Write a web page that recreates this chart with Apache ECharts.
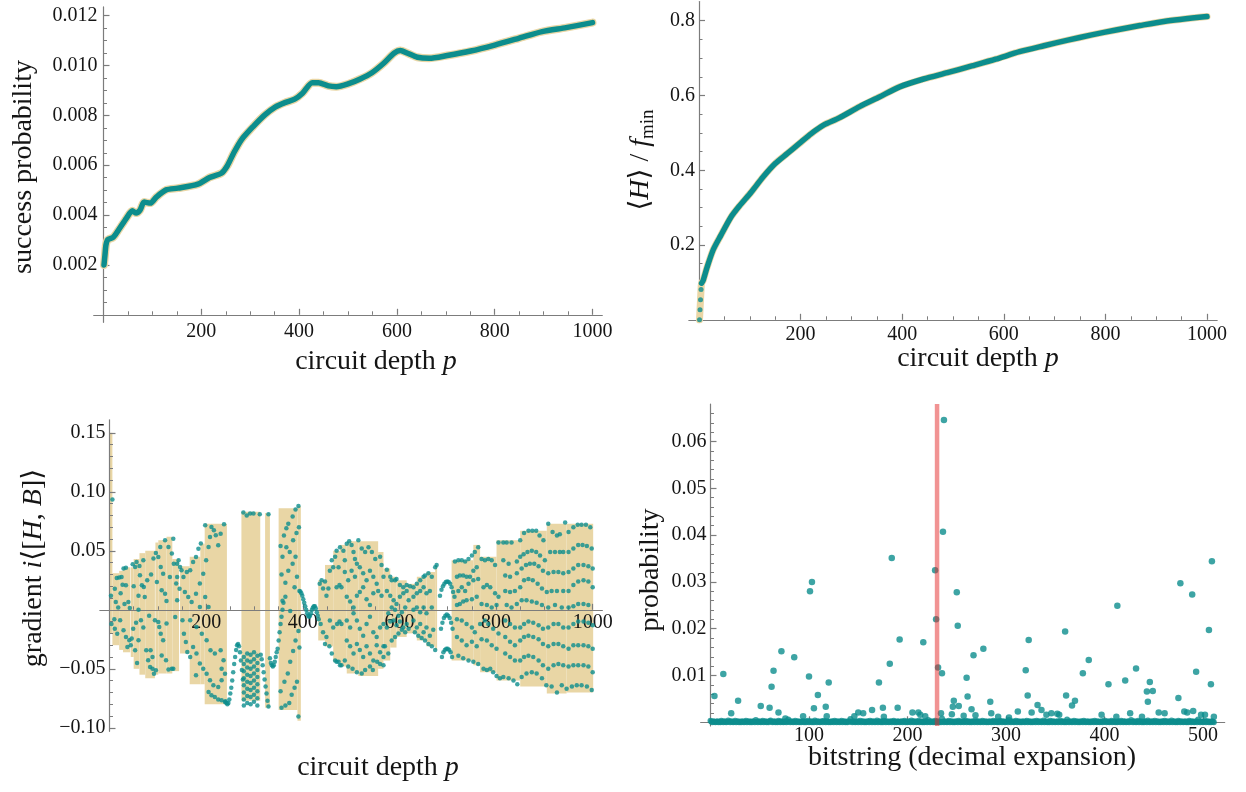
<!DOCTYPE html>
<html><head><meta charset="utf-8">
<script src="https://cdn.jsdelivr.net/npm/echarts@6/dist/echarts.min.js"></script>
<style>html,body{margin:0;padding:0;background:#fff}#c{width:1246px;height:792px}</style>
</head><body><div id="c"></div>
<script>
// ---------- Panel 1: success probability vs circuit depth ----------
const p1Depth = [1,3,5,8,10,20,31,47,59,67,75,83,96,108,128,152,193,217,241,253,266,282,306,330,351,371,391,407,427,440,460,476,500,525,549,573,594,607,622,642,666,703,751,800,849,897,946,1000];
const p1Success = [0.0020,0.0024,0.0028,0.0030,0.00303,0.00311,0.00341,0.00388,0.00417,0.00408,0.00421,0.00452,0.00448,0.00472,0.00501,0.00508,0.00524,0.00551,0.00568,0.00597,0.00648,0.00702,0.00755,0.00802,0.00833,0.00851,0.00865,0.00889,0.00931,0.00931,0.00918,0.00915,0.00926,0.00946,0.00971,0.01009,0.01049,0.01060,0.01049,0.01033,0.01029,0.01040,0.01058,0.01082,0.01109,0.01136,0.01152,0.01172];

// ---------- Panel 2: <H>/f_min vs circuit depth ----------
const p2Depth = [1,2,3,4,5,8,16,28,43,63,79,103,126,150,174,197,221,245,276,316,355,395,442,489,537,584,631,679,726,773,821,868,915,1000];
const p2Energy = [0,0.027,0.054,0.081,0.098,0.105,0.141,0.1875,0.226,0.275,0.3036,0.342,0.382,0.418,0.445,0.471,0.498,0.5205,0.540,0.570,0.596,0.623,0.644,0.661,0.679,0.697,0.717,0.733,0.748,0.762,0.775,0.787,0.798,0.811];

// ---------- Panel 3: gradient band (start, end, low, high) ----------
const bandStart = [0,6,20,28,44,50,62,74,95,101,118,130,146,166,188,197,273,322,350,389,432,446,463,477,491,515,556,567,581,594,615,636,656,674,708,753,767,801,850,905,946];
const bandEnd   = [6,20,28,43,50,62,74,94,101,118,130,144,166,188,197,243,312,332,389,396,446,463,477,491,515,556,567,581,594,615,636,656,674,678,753,767,801,850,905,946,1001];
const bandHi = [0.150,0.031,0.033,0.036,0.036,0.043,0.048,0.050,0.057,0.059,0.062,0.043,0.037,0.045,0.056,0.073,0.083,0.082,0.086,0.088,0.025,0.038,0.050,0.055,0.058,0.058,0.049,0.035,0.028,0.025,0.022,0.028,0.032,0.038,0.042,0.055,0.045,0.059,0.067,0.073,0.073];
const bandLo = [-0.020,-0.030,-0.034,-0.036,-0.040,-0.050,-0.055,-0.058,-0.055,-0.054,-0.054,-0.052,-0.037,-0.063,-0.063,-0.080,-0.077,-0.083,-0.085,-0.094,-0.026,-0.031,-0.044,-0.048,-0.054,-0.056,-0.050,-0.043,-0.032,-0.023,-0.020,-0.026,-0.031,-0.034,-0.043,-0.047,-0.053,-0.060,-0.065,-0.071,-0.070];

// ---------- Panel 3: gradient sample points [p, value] ----------
const gradPoints = [
[6,0.0934],[11,0.0179],[13,0.0066],[10,-0.0081],[11,-0.016],[16,-0.0202],[20,0.0273],[25,0.0278],[29,0.0349],[34,0.0357],[27,0.0213],[34,0.0208],[39,0.0066],[42,0.0016],[22,-0.0089],[29,-0.0174],[34,-0.023],[37,-0.0315],[41,-0.0258],[46,-0.0244],[49,-0.016],[48,0.0386],[53,0.0363],[56,0.0405],[62,0.0371],[63,0.0292],[67,0.0208],[70,0.0419],[71,0.0194],[73,0.0109],[65,-0.0089],[70,-0.0151],[60,-0.0258],[53,-0.0343],[76,-0.0343],[80,-0.0427],[84,-0.0484],[89,-0.0499],[92,-0.0541],[96,-0.0513],[89,-0.0399],[85,-0.0343],[91,0.0434],[96,0.0482],[101,0.0448],[106,0.0363],[111,0.0306],[108,0.0165],[115,0.0137],[118,0.0075],[125,0.0278],[129,0.0476],[133,0.0391],[122,0.0533],[115,0.0589],[105,0.0533],[98,0.0236],[101,-0.0103],[103,-0.0145],[106,-0.0202],[111,-0.0258],[108,-0.0388],[117,-0.0427],[122,-0.0507],[129,-0.0499],[132,-0.0499],[94,-0.0089],[118,-0.0117],[136,-0.0061],[138,0.0222],[140,0.0391],[143,0.0419],[140,0.0278],[146,0.0363],[132,0.0603],[140,0.008],[145,0.0179],
[3,0.012],[4,-0.012],[15,0.027],[18,0.002],[23,0.014],[31,0.005],[44,-0.03],[57,-0.045],[60,0.0],[78,0.025],[82,-0.005],[86,0.030],[60,0.012],[50,0.02],[55,-0.011],
[149,0.0335],[153,0.0278],[160,0.0321],[167,0.0335],[173,0.0405],[179,0.0448],[184,0.0518],[189,0.0561],[198,0.0716],[205,0.0533],[211,0.0702],[216,0.0674],[220,0.0631],[225,0.0546],[230,0.0645],[237,0.0725],[208,0.0617],[200,0.0419],[194,0.0306],[187,0.0222],[179,0.0137],[170,0.0066],[163,0.0109],[156,0.0151],[198,0.0109],[151,-0.0089],[154,-0.0202],[158,-0.0273],[161,-0.0357],[167,-0.0399],[173,-0.0315],[180,-0.0371],[187,-0.0456],[179,-0.0555],[194,-0.0499],[201,-0.0541],[205,-0.0696],[211,-0.0725],[218,-0.0739],[225,-0.0761],[232,-0.0767],[239,-0.0781],[208,-0.0597],[215,-0.064],[225,-0.0654],[232,-0.0597],[167,-0.0089],[180,-0.0145],[191,-0.0202],[201,-0.0258],[209,-0.0343],[218,-0.0371],[230,-0.0343],[236,-0.0427],[239,-0.0541],[232,-0.0499],[187,0.0024],[205,0.0024],
[240,-0.0775],[242,-0.079],[244,-0.080],[246,-0.079],[248,-0.076],[250,-0.071],[252,-0.066],[254,-0.060],[256,-0.053],[258,-0.046],[260,-0.040],[262,-0.034],[264,-0.030],[266,-0.029],[268,-0.031],[270,-0.036],[272,-0.043],[274,-0.051],[276,-0.059],
[278,-0.040],[278,-0.046],[278,-0.052],[278,-0.058],[278,-0.064],[278,-0.070],[278,-0.076],[278,-0.081],
[285,-0.037],[285,-0.043],[285,-0.049],[285,-0.055],[285,-0.061],[285,-0.067],[285,-0.073],[285,-0.079],
[292,-0.038],[292,-0.044],[292,-0.050],[292,-0.056],[292,-0.062],[292,-0.068],[292,-0.074],[292,-0.080],
[299,-0.036],[299,-0.042],[299,-0.048],[299,-0.054],[299,-0.060],[299,-0.066],[299,-0.072],[299,-0.078],
[306,-0.039],[306,-0.045],[306,-0.051],[306,-0.057],[306,-0.063],[306,-0.069],[306,-0.075],[306,-0.081],
[277,0.0825],[284,0.080],[291,0.0815],[298,0.0815],[311,0.081],[329,0.081],
[313,-0.038],[315,-0.042],[317,-0.047],[319,-0.053],[321,-0.059],[323,-0.065],[325,-0.071],[327,-0.077],[329,-0.082],
[332,-0.041],[334,-0.045],[336,-0.047],[338,-0.048],[340,-0.047],[342,-0.044],[344,-0.040],[346,-0.036],
[348,-0.033],[350,-0.026],[352,-0.019],[354,-0.012],[356,-0.006],[358,0.0],[360,0.006],
[354,0.054],[361,0.063],[366,0.069],[370,0.073],[379,0.079],[385,0.085],[391,0.088],[358,0.045],[366,0.053],[373,0.049],[380,0.059],[387,0.065],[392,0.070],[356,0.030],[364,0.023],[370,0.033],[379,0.039],[385,0.045],[358,0.0077],[364,0.011],[374,-0.001],[383,0.019],[388,0.028],[354,-0.069],[362,-0.061],[369,-0.054],[374,-0.044],[380,-0.035],[385,-0.026],[391,-0.018],[356,-0.083],[364,-0.081],[372,-0.079],[377,-0.072],[383,-0.066],[388,-0.061],[391,-0.0905],[393,-0.032],
[393,0.016],[395,0.0155],[397,0.014],[399,0.012],[401,0.009],[403,0.006],[405,0.003],[407,0.0],[409,-0.003],[411,-0.005],[413,-0.006],[415,-0.005],[417,-0.003],[419,0.0],[421,0.002],[423,0.003],[425,0.003],[427,0.001],[429,-0.002],[431,-0.005],[433,-0.008],
[435,0.022],[439,0.025],[442,0.018],[446,0.024],[449,0.012],[453,0.018],[456,0.033],[460,0.042],[463,0.036],[467,0.045],[470,0.050],[474,0.036],[477,0.053],[437,-0.012],[442,-0.019],[446,-0.029],[449,-0.023],[455,-0.031],[460,-0.037],[467,-0.043],[470,-0.044],[477,-0.047],[456,-0.009],[463,-0.015],[470,0.019],[476,0.021],[480,0.019],[471,-0.012],[476,-0.010],[480,-0.012],
[484,0.050],[487,0.042],[491,0.056],[496,0.058],[501,0.055],[505,0.049],[508,0.043],[512,0.039],[515,0.059],[522,0.052],[529,0.049],[536,0.053],[543,0.049],[550,0.043],[560,0.045],[563,0.038],
[487,0.032],[494,0.025],[501,0.033],[508,0.028],[518,0.036],[525,0.031],[532,0.025],[539,0.033],[546,0.028],[553,0.022],[567,0.028],
[491,0.011],[498,0.007],[505,0.002],[512,0.012],[518,0.015],[525,0.019],[532,0.009],[539,0.004],[546,0.014],[556,0.016],[563,0.012],
[491,-0.009],[498,-0.015],[505,-0.003],[512,-0.009],[518,-0.016],[525,-0.022],[532,-0.012],[539,-0.006],[546,-0.019],[553,-0.023],[560,-0.015],[567,-0.012],
[491,-0.026],[498,-0.031],[505,-0.037],[512,-0.029],[518,-0.034],[525,-0.040],[532,-0.031],[539,-0.037],[546,-0.043],[553,-0.030],[560,-0.036],[567,-0.031],
[474,-0.044],[480,-0.047],[487,-0.043],[494,-0.048],[503,-0.050],[512,-0.053],[522,-0.054],[529,-0.051],[539,-0.048],[545,-0.051],[554,-0.044],[560,-0.046],[567,-0.047],
[574,0.034],[581,0.028],[584,0.025],[591,0.025],[594,0.026],[601,0.021],[608,0.019],[615,0.021],[622,0.020],
[574,0.016],[581,0.012],[588,0.008],[594,0.005],[601,0.011],[608,0.014],[615,0.016],
[577,-0.003],[584,0.002],[591,0.0],[598,-0.005],[605,-0.002],[612,0.002],[619,0.008],
[574,-0.015],[581,-0.010],[588,-0.009],[594,-0.013],[601,-0.010],[608,-0.015],[615,-0.012],
[570,-0.031],[577,-0.037],[584,-0.026],[591,-0.023],[598,-0.020],[605,-0.017],[612,-0.019],[619,-0.016],[567,-0.040],
[629,0.019],[636,0.022],[643,0.025],[650,0.028],[653,0.029],[660,0.031],[667,0.028],[674,0.036],[677,0.038],
[629,0.011],[636,0.014],[643,0.016],[650,0.019],[656,0.014],[663,0.016],
[629,0.0],[636,0.002],[643,-0.002],[650,0.002],[656,-0.003],[667,0.002],
[629,-0.009],[636,-0.015],[643,-0.012],[650,-0.019],[656,-0.015],[663,-0.022],[670,-0.017],
[632,-0.019],[639,-0.022],[646,-0.024],[653,-0.026],[660,-0.029],[667,-0.031],[674,-0.034],
[684,0.012],[687,0.017],[690,0.020],[693,0.022],[696,0.0235],[699,0.024],[702,0.0235],[705,0.022],[708,0.019],[711,0.015],[714,0.011],
[686,-0.016],[689,-0.011],[692,-0.007],[695,-0.005],[698,-0.004],[701,-0.005],[704,-0.007],[707,-0.011],[710,-0.016],
[688,-0.040],[691,-0.036],[694,-0.034],[697,-0.033],[700,-0.033],[703,-0.034],[706,-0.036],[709,-0.040],
[715,0.041],[722,0.042],[729,0.042],[736,0.041],[743,0.043],[750,0.046],[756,0.049],[763,0.053],[770,0.043],[777,0.042],[784,0.043],[791,0.042],[798,0.038],[805,0.057],
[719,0.028],[725,0.029],[732,0.029],[739,0.028],[746,0.028],[753,0.033],[760,0.036],
[722,0.016],[729,0.019],[736,0.016],[743,0.022],[753,0.025],[763,0.026],[774,0.019],[781,0.021],[788,0.019],[798,0.014],[805,0.011],
[719,0.004],[725,0.005],[732,0.007],[739,0.008],[750,0.009],[760,0.011],[770,0.005],[781,0.004],[791,0.002],[801,0.004],
[719,-0.008],[729,-0.009],[739,-0.012],[750,-0.015],[756,-0.019],[767,-0.012],[777,-0.009],[784,-0.012],[794,-0.016],[805,-0.020],
[719,-0.023],[729,-0.026],[739,-0.030],[750,-0.027],[760,-0.031],[770,-0.025],[781,-0.026],[791,-0.030],[801,-0.033],
[722,-0.039],[732,-0.041],[743,-0.043],[753,-0.044],[763,-0.046],[774,-0.050],[781,-0.051],[788,-0.050],[794,-0.053],[801,-0.056],[808,-0.058],
[815,0.057],[822,0.057],[832,0.057],[850,0.059],[858,0.065],[867,0.067],[875,0.067],[883,0.067],[890,0.063],[898,0.059],[908,0.073],[917,0.066],[926,0.063],[932,0.064],[943,0.074],[950,0.066],[960,0.070],[969,0.072],[977,0.072],[986,0.072],[995,0.070],
[815,0.042],[826,0.039],[843,0.041],[850,0.045],[857,0.047],[865,0.049],[874,0.050],[883,0.049],[891,0.046],[901,0.042],[912,0.049],[922,0.049],[932,0.049],[939,0.049],[950,0.049],[960,0.052],[970,0.055],[979,0.055],[988,0.054],[998,0.052],
[819,0.029],[829,0.028],[843,0.031],[853,0.035],[862,0.038],[870,0.039],[879,0.039],[888,0.037],[897,0.033],[908,0.031],[919,0.032],[929,0.032],[939,0.031],[950,0.032],[960,0.035],[970,0.038],[981,0.038],[991,0.037],[1000,0.035],
[819,0.016],[829,0.015],[839,0.016],[850,0.019],[858,0.025],[867,0.026],[876,0.025],[886,0.022],[895,0.018],[905,0.015],[915,0.016],[926,0.016],[939,0.016],[950,0.016],[960,0.021],[970,0.024],[981,0.025],[991,0.024],[1000,0.019],
[822,0.004],[832,0.002],[843,0.005],[853,0.008],[863,0.008],[874,0.007],[884,0.006],[895,0.004],[908,0.002],[922,0.004],[936,0.002],[950,0.002],[960,0.003],[970,0.005],[981,0.005],[991,0.004],
[819,-0.009],[829,-0.012],[839,-0.015],[850,-0.015],[858,-0.012],[867,-0.010],[877,-0.011],[888,-0.013],[897,-0.016],[908,-0.015],[919,-0.012],[929,-0.012],[939,-0.015],[950,-0.015],[960,-0.012],[970,-0.010],[981,-0.010],[991,-0.011],[1000,-0.013],
[819,-0.023],[829,-0.027],[839,-0.030],[850,-0.026],[858,-0.023],[867,-0.022],[877,-0.023],[888,-0.025],[897,-0.029],[908,-0.031],[919,-0.029],[929,-0.029],[939,-0.031],[950,-0.033],[960,-0.030],[970,-0.030],[981,-0.030],[991,-0.031],[1000,-0.033],
[819,-0.037],[829,-0.040],[839,-0.043],[850,-0.043],[858,-0.040],[867,-0.039],[877,-0.040],[888,-0.043],[897,-0.047],[908,-0.050],[919,-0.047],[929,-0.046],[939,-0.047],[950,-0.048],[960,-0.047],[970,-0.047],[981,-0.047],[991,-0.048],[1000,-0.053],
[815,-0.057],[826,-0.058],[836,-0.060],[844,-0.063],[853,-0.057],[863,-0.054],[874,-0.053],[884,-0.054],[895,-0.058],[904,-0.064],[915,-0.065],[926,-0.070],[936,-0.064],[946,-0.067],[957,-0.065],[967,-0.064],[977,-0.064],[988,-0.065],[998,-0.068]
];

// ---------- Panel 4: bitstring probabilities ----------
const peakBits = [4,13,21,28,51,60,62,64,69,72,76,85,94,100,101,103,105,109,117,118,120,146,150,155,164,171,175,176,182,184,190,192,205,211,213,216,218,228,229,231,234,235,236,237,245,246,247,250,251,252,257,260,261,265,267,269,277,284,285,292,303,312,320,322,323,326,332,336,341,346,352,354,360,361,367,370,378,384,397,404,412,413,421,426,432,438,443,444,446,449,455,461,475,477,481,484,489,490,493,498,502,506,508,509,511];
const peakProbs = [0.0056,0.0103,0.0019,0.0046,0.0035,0.0031,0.0076,0.0110,0.0021,0.0152,0.0008,0.0139,0.0013,0.0098,0.0280,0.0300,0.0030,0.0058,0.0033,0.0013,0.0085,0.0013,0.0021,0.0019,0.0026,0.0085,0.0031,0.0012,0.0125,0.0351,0.0031,0.0177,0.0021,0.0021,0.0016,0.0171,0.0013,0.0325,0.0220,0.0117,0.0019,0.0105,0.0407,0.0646,0.0017,0.0033,0.0046,0.0278,0.0206,0.0035,0.0014,0.0095,0.0055,0.0028,0.0143,0.0015,0.0157,0.0044,0.0019,0.0012,0.0010,0.0023,0.0111,0.0057,0.0176,0.0021,0.0037,0.0026,0.0016,0.0019,0.0018,0.0016,0.0194,0.0057,0.0036,0.0046,0.0105,0.0133,0.0016,0.0081,0.0012,0.0249,0.0089,0.0019,0.0115,0.0012,0.0066,0.0044,0.0086,0.0067,0.0021,0.0019,0.0052,0.0297,0.0023,0.0021,0.0273,0.0024,0.0108,0.0016,0.0016,0.0197,0.0081,0.0344,0.0012];
// small probabilities of all 512 bitstrings, in units of 1e-4
const baseProb1e4 = [
3,1,0,2,1,0,1,2,0,1,0,3,1,0,2,1,0,1,4,1,0,2,1,0,1,3,0,1,2,0,1,0,
2,1,0,1,3,0,1,2,0,1,0,2,1,0,5,1,0,2,1,0,1,3,0,1,2,0,1,0,2,4,1,0,
1,2,0,1,0,3,1,0,2,1,0,1,2,0,1,6,1,0,2,1,0,1,3,0,1,2,0,1,0,2,1,0,
2,0,1,3,0,1,2,0,1,0,4,1,0,2,1,0,1,2,0,3,1,0,2,1,0,1,0,2,1,0,3,1,
0,2,1,0,1,3,0,1,2,0,1,0,2,1,7,1,0,2,1,0,1,2,0,1,3,0,1,2,0,1,0,2,
1,0,3,1,0,2,1,0,1,4,0,1,2,0,1,0,3,1,0,2,1,0,1,2,0,1,3,0,1,0,2,1,
0,1,2,0,1,3,0,1,0,2,1,0,4,1,0,2,1,0,1,3,0,1,2,0,1,0,2,1,0,5,1,0,
2,1,0,1,3,0,1,2,0,1,0,8,1,0,2,1,0,1,3,0,1,2,0,1,0,2,1,0,3,1,0,1,
2,0,1,3,0,1,2,0,1,0,2,1,0,4,1,0,2,1,0,1,3,0,1,2,0,1,0,2,1,0,1,3,
0,1,2,0,1,0,3,1,0,2,1,0,1,2,0,5,1,0,2,1,0,1,3,0,1,2,0,1,0,2,1,0,
1,3,0,1,2,0,1,0,2,1,0,3,1,0,2,1,0,1,4,0,1,2,0,1,0,3,1,0,2,1,0,1,
2,0,1,3,0,1,2,0,1,0,6,1,0,2,1,0,1,3,0,1,2,0,1,0,2,1,0,3,1,0,1,2,
0,1,0,2,1,0,3,1,0,2,1,0,1,2,0,1,4,1,0,2,1,0,1,3,0,1,2,0,1,0,2,1,
0,3,1,0,2,1,0,1,2,0,1,5,1,0,2,1,0,1,3,0,1,2,0,1,0,2,1,0,4,1,0,1,
2,0,1,3,0,1,2,0,1,0,2,1,0,3,1,0,2,1,0,1,4,0,1,2,0,1,0,3,1,0,2,1,
0,1,2,0,1,0,3,1,0,2,1,0,1,2,0,6,1,0,2,1,0,1,3,0,1,2,0,1,0,2,1,0
];
const targetBit = 230;

// ---------- tick values ----------
const depthMajor = [200,400,600,800,1000];
const depthMinor = [50,100,150,250,300,350,450,500,550,650,700,750,850,900,950];
const p1YMajor = [0.002,0.004,0.006,0.008,0.010,0.012];
const p1YMinor = [0.0005,0.001,0.0015,0.0025,0.003,0.0035,0.0045,0.005,0.0055,0.0065,0.007,0.0075,0.0085,0.009,0.0095,0.0105,0.011,0.0115];
const p2YMajor = [0.2,0.4,0.6,0.8];
const p2YMinor = [0.05,0.1,0.15,0.25,0.3,0.35,0.45,0.5,0.55,0.65,0.7,0.75];
const p3YMajor = [-0.10,-0.05,0.05,0.10,0.15];
const p3YMinor = [-0.09,-0.08,-0.07,-0.06,-0.04,-0.03,-0.02,-0.01,0.01,0.02,0.03,0.04,0.06,0.07,0.08,0.09,0.11,0.12,0.13,0.14];
const p4XMajor = [100,200,300,400,500];
const p4XMinor = [20,40,60,80,120,140,160,180,220,240,260,280,320,340,360,380,420,440,460,480];
const p4YMajor = [0.01,0.02,0.03,0.04,0.05,0.06];
const p4YMinor = [0.002,0.004,0.006,0.008,0.012,0.014,0.016,0.018,0.022,0.024,0.026,0.028,0.032,0.034,0.036,0.038,0.042,0.044,0.046,0.048,0.052,0.054,0.056,0.058,0.062,0.064,0.066];

// ---------- style ----------
const TEAL = '#0c8d8d', TAN = '#e9d6a5', AX = '#7c7c7c', TXT = '#151515';
const FONT = '"Liberation Serif", "DejaVu Serif", serif';
const minus = v => v < 0 ? '\u2212' + Math.abs(v).toFixed(2) : v.toFixed(2);

// axis pair (major with labels + minor ticks); offset places the axis on the other axis' zero
function axes(g, dim, min, max, majors, minors, fmt, margin, offset) {
  const base = {type:'value', gridIndex:g, min:min, max:max, position: dim === 'x' ? 'bottom' : 'left',
    offset: offset, z: 1, splitLine:{show:false}, splitArea:{show:false}};
  return [
    Object.assign({}, base, {
      axisLine:{show:true, onZero:false, lineStyle:{color:AX, width:1.2}},
      axisTick:{show:true, inside:true, length:6, customValues:majors, lineStyle:{color:AX, width:1.2}},
      axisLabel:{show:true, customValues:majors, formatter:fmt, margin:margin, color:TXT, fontFamily:FONT, fontSize:20}
    }),
    Object.assign({}, base, {
      axisLine:{show:false, onZero:false},
      axisTick:{show:true, inside:true, length:3.5, customValues:minors, lineStyle:{color:AX, width:1}},
      axisLabel:{show:false}
    })
  ];
}

const grids = [
  {left:93.72, top:6.9, width:508.56, height:315.4},
  {left:688.84, top:1.6, width:528.32, height:320.1},
  {left:99.84, top:419.8, width:502.52, height:311.54},
  {left:700.65, top:404.1, width:524.05, height:321.9}
].map(g => Object.assign(g, {containLabel:false, outerBoundsMode:'none'}));

const xAxes = [].concat(
  axes(0,'x',-20,1020,depthMajor,depthMinor,v=>String(v),7,-7.5),
  axes(1,'x',-20,1020,depthMajor,depthMinor,v=>String(v),5,-1.9),
  axes(2,'x',-20,1020,depthMajor,depthMinor,v=>String(v),3,-121.54),
  axes(3,'x',-10,522,p4XMajor,p4XMinor,v=>String(v),3,-3.7)
);
const yAxes = [].concat(
  axes(0,'y',-0.0003,0.01235,p1YMajor,p1YMinor,v=>v.toFixed(3),6,-9.78),
  axes(1,'y',-0.005,0.851,p2YMajor,p2YMinor,v=>v.toFixed(1),4,-10.16),
  axes(2,'y',-0.103,0.161,p3YMajor,p3YMinor,minus,4,-9.66),
  axes(3,'y',-0.0008,0.068,p4YMajor,p4YMinor,v=>v.toFixed(2),4,-9.85)
);

const p1Data = p1Depth.map((p,i)=>[p,p1Success[i]]);
const p2Data = p2Depth.map((p,i)=>[p,p2Energy[i]]);
const baseData = baseProb1e4.map((v,i)=>[i, v/10000]);
const peakData = peakBits.map((b,i)=>[b, peakProbs[i]]);

const series = [
  {type:'line', xAxisIndex:0, yAxisIndex:0, data:p1Data, showSymbol:false, smooth:0.25,
   lineStyle:{color:TAN, width:8, join:'round', cap:'round'}, z:2, silent:true},
  {type:'line', xAxisIndex:0, yAxisIndex:0, data:p1Data, showSymbol:false, smooth:0.25,
   lineStyle:{color:TEAL, width:5.5, join:'round', cap:'round'}, z:3, silent:true},
  {type:'line', xAxisIndex:2, yAxisIndex:2, data:p2Data, showSymbol:false, smooth:0.25,
   lineStyle:{color:TAN, width:7, join:'round', cap:'round'}, z:2, silent:true},
  {type:'line', xAxisIndex:2, yAxisIndex:2, data:p2Data.slice(4), showSymbol:false, smooth:0.25,
   lineStyle:{color:TEAL, width:5.5, join:'round', cap:'round'}, z:3, silent:true},
  {type:'scatter', xAxisIndex:2, yAxisIndex:2, data:p2Data.slice(0,4), symbolSize:5, itemStyle:{color:TEAL}, z:3, silent:true},
  {type:'custom', xAxisIndex:4, yAxisIndex:4, z:0, silent:true,
   data: bandStart.map((s,i)=>[s, bandEnd[i], bandLo[i], bandHi[i]]),
   encode:{x:[0,1], y:[2,3]},
   renderItem: function(params, api){
     const a = api.coord([api.value(0), api.value(3)]);
     const b = api.coord([api.value(1), api.value(2)]);
     return {type:'rect', shape:{x:a[0], y:a[1], width:b[0]-a[0], height:b[1]-a[1]}, style:{fill:TAN}};
   }},
  {type:'scatter', xAxisIndex:4, yAxisIndex:4, data:gradPoints, symbolSize:4.5, itemStyle:{color:TEAL}, z:3, silent:true},
  {type:'scatter', xAxisIndex:6, yAxisIndex:6, data:baseData, symbolSize:6, itemStyle:{color:TEAL}, z:3, silent:true},
  {type:'scatter', xAxisIndex:6, yAxisIndex:6, data:peakData, symbolSize:6.5, itemStyle:{color:TEAL}, z:3, silent:true},
  {type:'line', xAxisIndex:6, yAxisIndex:6, data:[[targetBit,-0.0008],[targetBit,0.068]], showSymbol:false,
   lineStyle:{color:'rgba(228,40,40,0.5)', width:4.5}, z:4, silent:true}
];

function title(x, y, rot, text, rich) {
  return {type:'text', x:x, y:y, rotation:rot, silent:true, z:10,
    style:{text:text, align:'center', verticalAlign:'middle', font:'28px ' + FONT, fill:TXT, rich:rich}};
}
const richBase = {
  n:{fontFamily:FONT, fontSize:28, lineHeight:34, color:TXT},
  i:{fontFamily:FONT, fontSize:28, fontStyle:'italic', lineHeight:34, color:TXT},
  s:{fontFamily:FONT, fontSize:19, lineHeight:19, verticalAlign:'bottom', color:TXT}
};
const graphic = [
  title(24, 167, Math.PI/2, '{n|success probability}', richBase),
  title(376, 362, 0, '{n|circuit depth }{i|p}', richBase),
  title(641, 160, Math.PI/2, '{n|\u27E8}{i|H}{n|\u27E9 / }{i|f}{s|min}', richBase),
  title(978, 359, 0, '{n|circuit depth }{i|p}', richBase),
  title(34, 568, Math.PI/2, '{n|gradient }{i|i}{n|\u27E8[}{i|H}{n|, }{i|B}{n|]\u27E9}', richBase),
  title(378, 768, 0, '{n|circuit depth }{i|p}', richBase),
  title(651, 570, Math.PI/2, '{n|probability}', richBase),
  title(972, 758, 0, '{n|bitstring (decimal expansion)}', richBase)
];

const chart = echarts.init(document.getElementById('c'), null, {renderer:'canvas'});
chart.setOption({
  animation:false,
  backgroundColor:'#ffffff',
  grid:grids,
  xAxis:xAxes,
  yAxis:yAxes,
  series:series,
  graphic:graphic
});
</script>
</body></html>
